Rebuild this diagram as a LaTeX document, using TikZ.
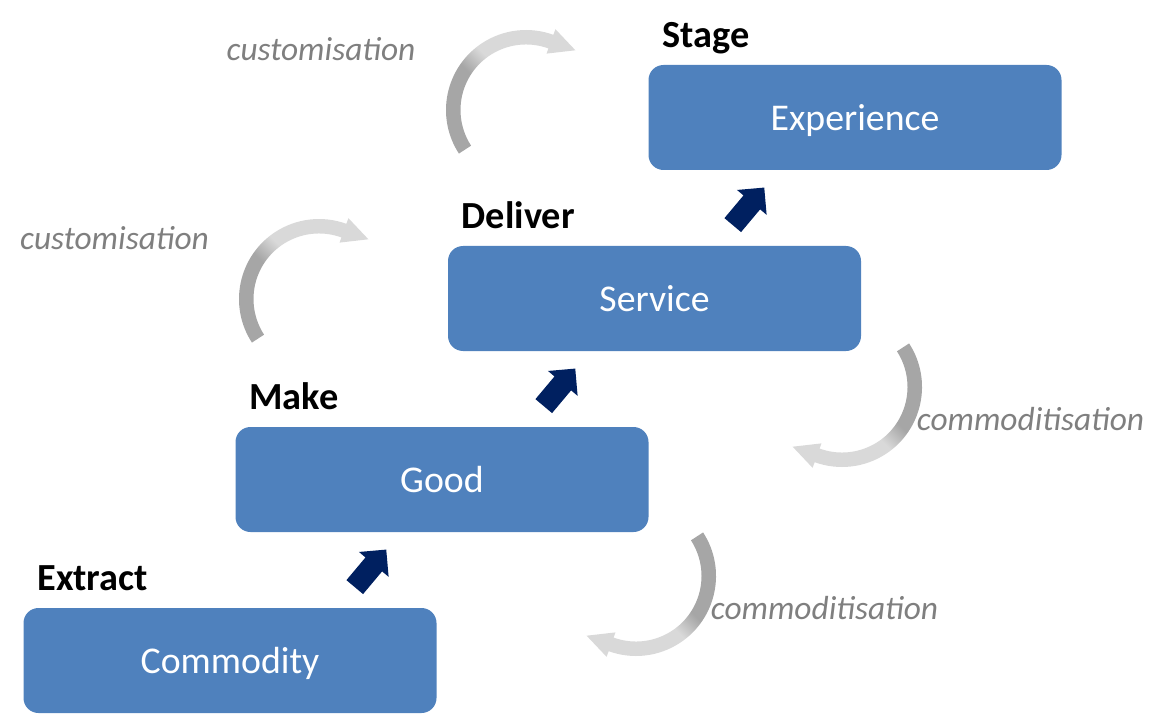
\documentclass[tikz,border=0pt]{standalone}
\usepackage{fontspec}
\setmainfont{Carlito}
\usetikzlibrary{shapes.arrows,calc,positioning}
\definecolor{boxblue}{HTML}{4F81BD}
\definecolor{navy}{HTML}{002060}
\definecolor{arcdark}{HTML}{A6A6A6}
\definecolor{arclight}{HTML}{D9D9D9}
\definecolor{notegray}{HTML}{7F7F7F}
\pgfdeclareverticalshading{arcshade}{100bp}{color(0bp)=(arclight); color(46bp)=(arclight); color(55bp)=(arcdark); color(100bp)=(arcdark)}
\tikzset{
  stagebox/.style={fill=boxblue, rounded corners=0.3cm, minimum width=8.26cm, minimum height=2.1cm,
    text=white, text depth=0pt, font=\fontsize{21.5}{25}\selectfont},
  steplabel/.style={anchor=base west, font=\bfseries\fontsize{21.8}{26}\selectfont},
  note/.style={text=notegray, font=\itshape\fontsize{19}{23}\selectfont},
  uparrow/.style={single arrow, fill=navy, inner sep=0.21cm, single arrow head extend=0.17cm,
    minimum height=0.98cm, rotate=50}
}
% #1 centre, #2 turn, #3 shading angle
\newcommand{\bentarrow}[3]{%
  \shade[shading=arcshade, shading angle=#3]
    ($(#1)+(213+#2:1.6)$) arc[start angle=213+#2, end angle=70+#2, radius=1.6]
    -- ($(#1)+(70+#2:1.72)$) -- ($(#1)+(70+#2:1.46)+(-20+#2:0.52)$) -- ($(#1)+(70+#2:1.2)$)
    -- ($(#1)+(70+#2:1.31)$) arc[start angle=70+#2, end angle=213+#2, radius=1.31] -- cycle;}

\begin{document}
\begin{tikzpicture}
  \useasboundingbox (0,0) rectangle (23.3,14.28);

  % stages
  \node[stagebox] (commodity) at (4.6,1.07) {Commodity};
  \node[stagebox] (good) at (8.84,4.69) {Good};
  \node[stagebox] (service) at (13.09,8.31) {Service};
  \node[stagebox] (experience) at (17.1,11.93) {Experience};

  \node[steplabel] (extract) at ($(commodity.north west)+(0.16,0.34)$) {Extract};
  \node[steplabel] (make) at ($(good.north west)+(0.16,0.34)$) {Make};
  \node[steplabel] (deliver) at ($(service.north west)+(0.16,0.34)$) {Deliver};
  \node[steplabel] (stage) at ($(experience.north west)+(0.16,0.34)$) {Stage};

  % steps up
  \node[uparrow] (c2g) at (7.34,2.83) {};
  \node[uparrow] (g2s) at (11.12,6.45) {};
  \node[uparrow] (s2e) at (14.9,10.07) {};

  % bent arrows
  \coordinate (bend1) at (10.52,12.08);
  \coordinate (bend2) at (6.38,8.3);
  \coordinate (bend3) at (16.84,6.54);
  \coordinate (bend4) at (12.72,2.76);
  \bentarrow{bend1}{0}{135}
  \bentarrow{bend2}{0}{135}
  \bentarrow{bend3}{180}{-45}
  \bentarrow{bend4}{180}{-45}

  \node[note] (custom1) at (6.42,13.3) {customisation};
  \node[note] (custom2) at (2.29,9.52) {customisation};
  \node[note] (commod1) at (20.61,5.9) {commoditisation};
  \node[note] (commod2) at (16.49,2.12) {commoditisation};
\end{tikzpicture}
\end{document}
